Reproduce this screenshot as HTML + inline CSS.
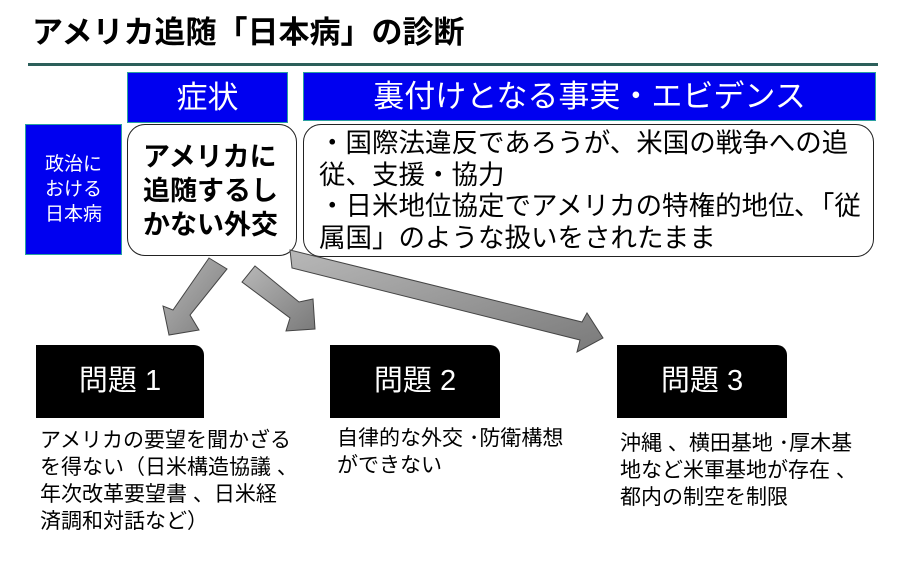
<!DOCTYPE html>
<html><head><meta charset="utf-8"><style>
body{margin:0;width:900px;height:563px;background:#fff;position:relative;overflow:hidden;font-family:"Liberation Sans","Noto Sans CJK JP",sans-serif;}
.a{position:absolute;box-sizing:border-box;}
.blue{background:#0000f0;border:1px solid #2aa0a0;color:#fff;text-align:center;}
.rb{border:1.5px solid #222;border-radius:18px;background:#fff;}
.blk{background:#000;color:#fff;border-top-right-radius:10px;text-align:center;font-size:29px;line-height:73px;}
.t{font-size:21px;line-height:27px;color:#000;white-space:nowrap;}
</style></head><body>
<div class="a" style="left:32px;top:12px;font-size:31px;font-weight:bold;line-height:42px;white-space:nowrap">アメリカ追随「日本病」の診断</div>
<div class="a" style="left:28px;top:63px;width:850px;height:3px;background:#2c5f5a"></div>
<div class="a blue" style="left:127px;top:72px;width:161px;height:51px;font-size:31px;line-height:50px">症状</div>
<div class="a blue" style="left:303px;top:72px;width:573px;height:49px;font-size:31px;line-height:48px">裏付けとなる事実・エビデンス</div>
<div class="a blue" style="left:25px;top:124px;width:97px;height:131px;font-size:19px;line-height:25px;padding-top:27px">政治に<br>おける<br>日本病</div>
<div class="a rb" style="left:127px;top:124px;width:170px;height:132px;font-size:27px;font-weight:bold;line-height:34px;padding:15px 0 0 15px;white-space:nowrap">アメリカに<br>追随するし<br>かない外交</div>
<div class="a rb" style="left:303px;top:124px;width:571px;height:133px;font-size:26.5px;line-height:31.5px;padding:3px 0 0 15px;white-space:nowrap">・国際法違反であろうが、米国の戦争への追<br>従、支援・協力<br>・日米地位協定でアメリカの特権的地位､「従<br>属国」のような扱いをされたまま</div>
<svg class="a" style="left:0;top:0" width="900" height="563">
<defs><linearGradient id="g" x1="0" y1="0" x2="1" y2="1"><stop offset="0" stop-color="#b8b8b8"/><stop offset="1" stop-color="#7a7a7a"/></linearGradient></defs>
<g fill="url(#g)" stroke="#444" stroke-width="1">
<polygon points="209,258 227,269 190,315 199,330 169,335 163,306 173,310"/>
<polygon points="255,266 299,302 313,299 315,329 286,331 290,318 242,282"/>
<polygon points="290,250 582,322 587,313 603,338 577,352 580,340 292,268"/>
</g></svg>
<div class="a blk" style="left:36px;top:345px;width:168px;height:73px">問題 1</div>
<div class="a blk" style="left:330px;top:345px;width:170px;height:73px">問題 2</div>
<div class="a blk" style="left:617px;top:345px;width:170px;height:73px">問題 3</div>
<div class="a t" style="left:40px;top:427px">アメリカの要望を聞かざる<br>を得ない（日米構造協議 、<br>年次改革要望書 、日米経<br>済調和対話など）</div>
<div class="a t" style="left:337px;top:425px">自律的な外交 ･防衛構想<br>ができない</div>
<div class="a t" style="left:620px;top:430px">沖縄 、横田基地 ･厚木基<br>地など米軍基地が存在 、<br>都内の制空を制限</div>
</body></html>
